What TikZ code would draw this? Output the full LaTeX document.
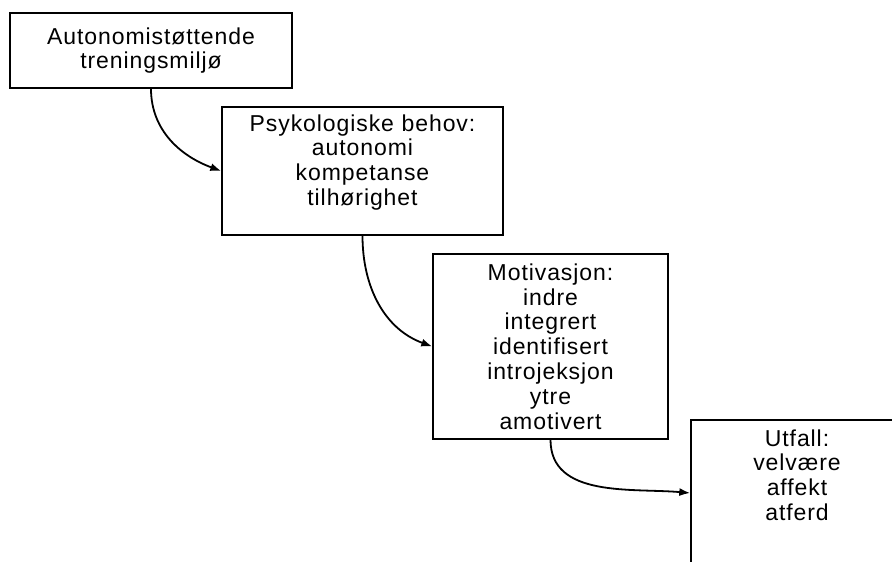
\documentclass[tikz,border=0pt]{standalone}
\usepackage{fontspec}
\setmainfont{Liberation Sans}[LetterSpace=4]
\usetikzlibrary{arrows.meta}

\tikzstyle{box} = [draw, rectangle, text centered, inner sep=0pt, line width=1.4pt, font=\fontsize{23}{24.8}\selectfont]
\tikzstyle{link} = [draw, line width=1.8pt, -{Latex[length=11pt, width=8pt]}]

\begin{document}
\begin{tikzpicture}[x=1pt, y=1pt]
  \useasboundingbox (-151,50.5) rectangle (741,-511.5);
  \clip (-151,50.5) rectangle (741,-511.5);

  \node [box, text width=282pt, minimum height=75pt] (milieu) at (0,0) {Autonomistøttende\\treningsmiljø};
  \node [box, text width=281pt, minimum height=128pt, below of=milieu, node distance=120.5pt, xshift=211.5pt] (behov) {Psykologiske behov:\\autonomi\\kompetanse\\tilhørighet\\[-10pt]\strut};
  \node [box, text width=235pt, minimum height=185pt, below of=behov, node distance=175.5pt, xshift=188pt] (motiv) {Motivasjon:\\indre\\integrert\\identifisert\\introjeksjon\\ytre\\amotivert};
  \node [box, text width=212pt, minimum height=146pt, below of=motiv, node distance=146.5pt, xshift=246.5pt] (utfall) {Utfall:\\velvære\\affekt\\atferd\\[4pt]\strut};

  \draw [link] (milieu.south) to[out=-90, in=160] (behov.west);
  \draw [link] (behov.south) to[out=-90, in=160] (motiv.west);
  \draw [link] (motiv.south) to[out=-90, in=175] (utfall.west);
\end{tikzpicture}
\end{document}
